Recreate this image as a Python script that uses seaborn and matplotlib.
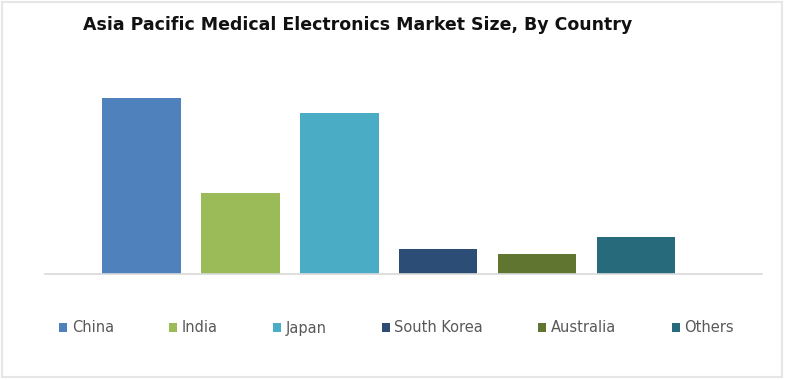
import matplotlib
matplotlib.use("Agg")
import matplotlib.pyplot as plt
import seaborn as sns
import pandas as pd
from matplotlib.patches import Patch, Rectangle

# values (relative bar heights)
countries = ["China", "India", "Japan", "South Korea", "Australia", "Others"]
market_size = [176, 81, 161, 25, 20, 37]
colors = ["#4F81BD", "#9BBB59", "#4BACC6", "#2C4D75", "#5F7530", "#276A7C"]

df = pd.DataFrame({"country": countries, "size": market_size})

sns.set_theme(style="white")
plt.rcParams["font.family"] = ["DejaVu Sans"]

fig = plt.figure(figsize=(7.85, 3.8), dpi=100)
ax = fig.add_axes([45 / 785, 1 - 274 / 380, 717 / 785, 200 / 380])

sns.barplot(data=df, x="country", y="size", hue="country", palette=colors,
            width=0.79, dodge=False, legend=False, ax=ax, saturation=1,
            linewidth=0)

ax.set_xlim(-0.975, 6.27)
ax.set_ylim(0, 200)
ax.set_xticks([])
ax.set_yticks([])
ax.set_xlabel("")
ax.set_ylabel("")
for s in ["top", "left", "right"]:
    ax.spines[s].set_visible(False)
ax.spines["bottom"].set_color("#D9D9D9")
ax.spines["bottom"].set_linewidth(1.2)

fig.text(0.455, 0.935, "Asia Pacific Medical Electronics Market Size, By Country",
         ha="center", va="center", fontsize=12.5, fontweight="bold",
         color="#111111")

handles = [Patch(facecolor=c, edgecolor="none", label=n) for c, n in zip(colors, countries)]
leg = fig.legend(handles=handles, loc="center", bbox_to_anchor=(0.505, 1 - 328 / 380),
                 ncol=6, frameon=False, fontsize=10.5, handlelength=0.55, handleheight=0.55,
                 handletextpad=0.3, columnspacing=3.8)
for t in leg.get_texts():
    t.set_color("#595959")

# light frame round the picture
fig.patches.append(Rectangle((0.002, 0.008), 0.994, 0.986, transform=fig.transFigure,
                             fill=False, edgecolor="#E6E6E6", linewidth=1.5))

fig.savefig("out.png", dpi=100)
